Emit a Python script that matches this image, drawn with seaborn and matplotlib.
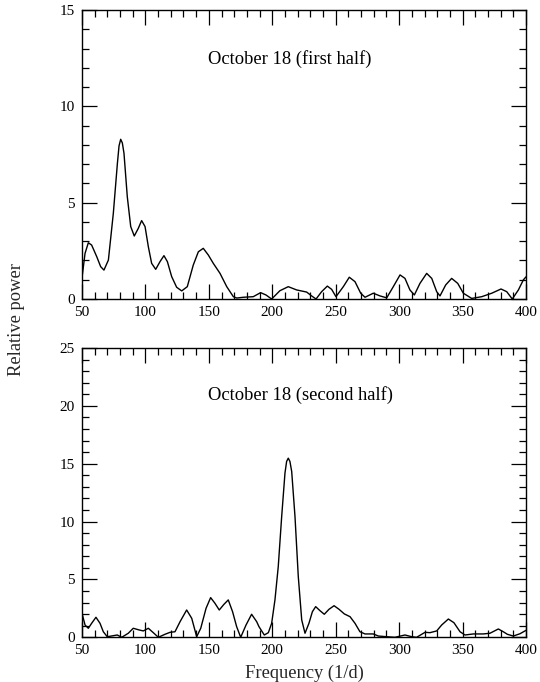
import matplotlib
matplotlib.use("Agg")
import matplotlib.pyplot as plt
import seaborn as sns
import pandas as pd
from matplotlib.ticker import MultipleLocator

# ---- data ----
freq_first = [50.0, 52.4, 55.0, 57.6, 61.6, 64.7, 67.3, 70.8, 74.7, 77.9, 79.2, 80.5, 81.8, 83.1,
              85.7, 88.4, 91.2, 94.4, 97.0, 99.7, 102.3, 104.9, 108.1, 111.5, 114.6, 117.3,
              120.7, 124.6, 128.6, 133.0, 137.7, 141.7, 145.6, 149.6, 153.5, 158.8, 164.1,
              169.3, 172.0, 177.2, 185.0, 190.8, 195.0, 199.5, 206.0, 212.6, 219.2, 227.1,
              231.0, 234.5, 238.9, 243.4, 246.8, 250.2, 256.0, 260.7, 265.2, 269.7, 273.1,
              279.6, 284.9, 290.2, 295.4, 300.7, 304.6, 308.5, 312.0, 316.4, 321.7, 325.7,
              329.6, 332.2, 336.7, 341.4, 346.2, 350.6, 357.2, 365.1, 373.0, 380.3, 384.8,
              389.2, 394.0, 397.9, 400.0]
power_first = [1.1, 2.37, 2.92, 2.8, 2.2, 1.68, 1.5, 2.02, 4.45, 7.04, 7.95, 8.29, 8.1, 7.56,
               5.31, 3.76, 3.27, 3.67, 4.07, 3.76, 2.71, 1.85, 1.54, 1.94, 2.25, 1.94,
               1.16, 0.61, 0.42, 0.64, 1.76, 2.45, 2.63, 2.28, 1.85, 1.33, 0.64,
               0.12, 0.05, 0.09, 0.12, 0.33, 0.21, 0.0, 0.43, 0.64, 0.47, 0.36,
               0.16, 0.0, 0.38, 0.67, 0.5, 0.12, 0.64, 1.13, 0.9, 0.3, 0.09,
               0.3, 0.16, 0.06, 0.64, 1.25, 1.07, 0.47, 0.21, 0.81, 1.33, 1.07,
               0.38, 0.16, 0.73, 1.07, 0.81, 0.3, 0.03, 0.12, 0.3, 0.52, 0.38,
               0.0, 0.47, 0.99, 1.15]

freq_second = [50.0, 52.4, 55.0, 57.6, 61.0, 64.2, 66.8, 69.9, 74.7, 77.8, 81.3, 86.5, 90.4,
               95.2, 98.3, 102.3, 106.2, 110.2, 115.4, 119.4, 123.3, 127.3, 132.5, 136.5,
               140.4, 143.6, 147.8, 151.4, 154.8, 158.2, 161.9, 165.3, 168.7, 171.9, 175.1,
               179.3, 183.7, 187.7, 189.5, 193.7, 196.9, 199.5, 202.1, 204.7, 207.4, 210.0,
               211.3, 212.6, 213.9, 215.3, 217.9, 220.5, 223.2, 225.8, 228.9, 231.6, 234.2,
               237.6, 241.0, 244.7, 248.7, 252.6, 256.8, 261.3, 265.2, 269.1, 273.1, 279.6,
               283.6, 290.2, 296.7, 304.6, 309.9, 313.8, 320.4, 324.3, 329.6, 333.5, 338.8,
               343.2, 348.0, 351.9, 358.5, 366.3, 371.6, 378.2, 382.1, 385.3, 390.0, 395.3,
               400.0]
power_second = [2.08, 1.06, 0.78, 1.21, 1.73, 1.21, 0.48, 0.05, 0.14, 0.2, 0.0, 0.35, 0.78,
                0.63, 0.55, 0.78, 0.4, 0.0, 0.26, 0.43, 0.48, 1.35, 2.36, 1.64,
                0.05, 0.78, 2.51, 3.43, 2.94, 2.36, 2.85, 3.23, 2.21, 0.92, 0.0,
                1.06, 1.99, 1.35, 0.92, 0.2, 0.4, 1.21, 3.23, 6.1, 10.43, 14.19,
                15.2, 15.48, 15.2, 14.33, 10.43, 5.24, 1.5, 0.35, 1.21, 2.21, 2.65,
                2.3, 1.99, 2.42, 2.73, 2.42, 2.02, 1.78, 1.21, 0.48, 0.29, 0.29,
                0.11, 0.05, 0.0, 0.2, 0.05, 0.0, 0.43, 0.4, 0.55, 1.06, 1.58,
                1.26, 0.48, 0.2, 0.29, 0.29, 0.35, 0.72, 0.48, 0.26, 0.11, 0.31,
                0.6]

titles = ["October 18 (first half)", "October 18 (second half)"]
ymax = [15, 25]
xlabel = "Frequency (1/d)"
ylabel = "Relative power"

# ---- style ----
sns.set_style("ticks")
plt.rcParams['font.family'] = ['Liberation Serif', 'DejaVu Serif']

fig = plt.figure(figsize=(5.4, 6.82), dpi=100)
ax1 = fig.add_axes([82/540, 1-299/682, 444/540, 289/682])
ax2 = fig.add_axes([82/540, 1-637.3/682, 444/540, 289.3/682])

dfs = [pd.DataFrame({"f": freq_first, "p": power_first}),
       pd.DataFrame({"f": freq_second, "p": power_second})]

tick_fs = 11
lab_fs = 13.3
for ax, df, title, ym, tpos in zip([ax1, ax2], dfs, titles, ymax, [(0.468, 0.83), (0.492, 0.838)]):
    sns.lineplot(data=df, x="f", y="p", ax=ax, color="black", linewidth=1.0,
                 estimator=None, sort=False)
    ax.set_xlim(50, 400)
    ax.set_ylim(0, ym)
    ax.xaxis.set_major_locator(MultipleLocator(50))
    ax.xaxis.set_minor_locator(MultipleLocator(10))
    ax.yaxis.set_major_locator(MultipleLocator(5))
    ax.yaxis.set_minor_locator(MultipleLocator(1))
    ax.tick_params(which="both", direction="in", top=True, right=True,
                   width=0.9, color="black", labelsize=tick_fs, labelcolor="black")
    ax.tick_params(which="major", length=10.5, pad=5)
    ax.tick_params(which="minor", length=5)
    for s in ax.spines.values():
        s.set_visible(True)
        s.set_linewidth(1.0)
        s.set_color("black")
    ax.set_xlabel("")
    ax.set_ylabel("")
    ax.text(tpos[0], tpos[1], title, transform=ax.transAxes, ha="center", va="center",
            fontsize=lab_fs, color="black")

fig.text(17/540, 1-320/682, ylabel, rotation=90, ha="center", va="center", fontsize=lab_fs)
fig.text(304/540, 1-673/682, xlabel, ha="center", va="center", fontsize=lab_fs)

fig.savefig("out.png", dpi=100)
